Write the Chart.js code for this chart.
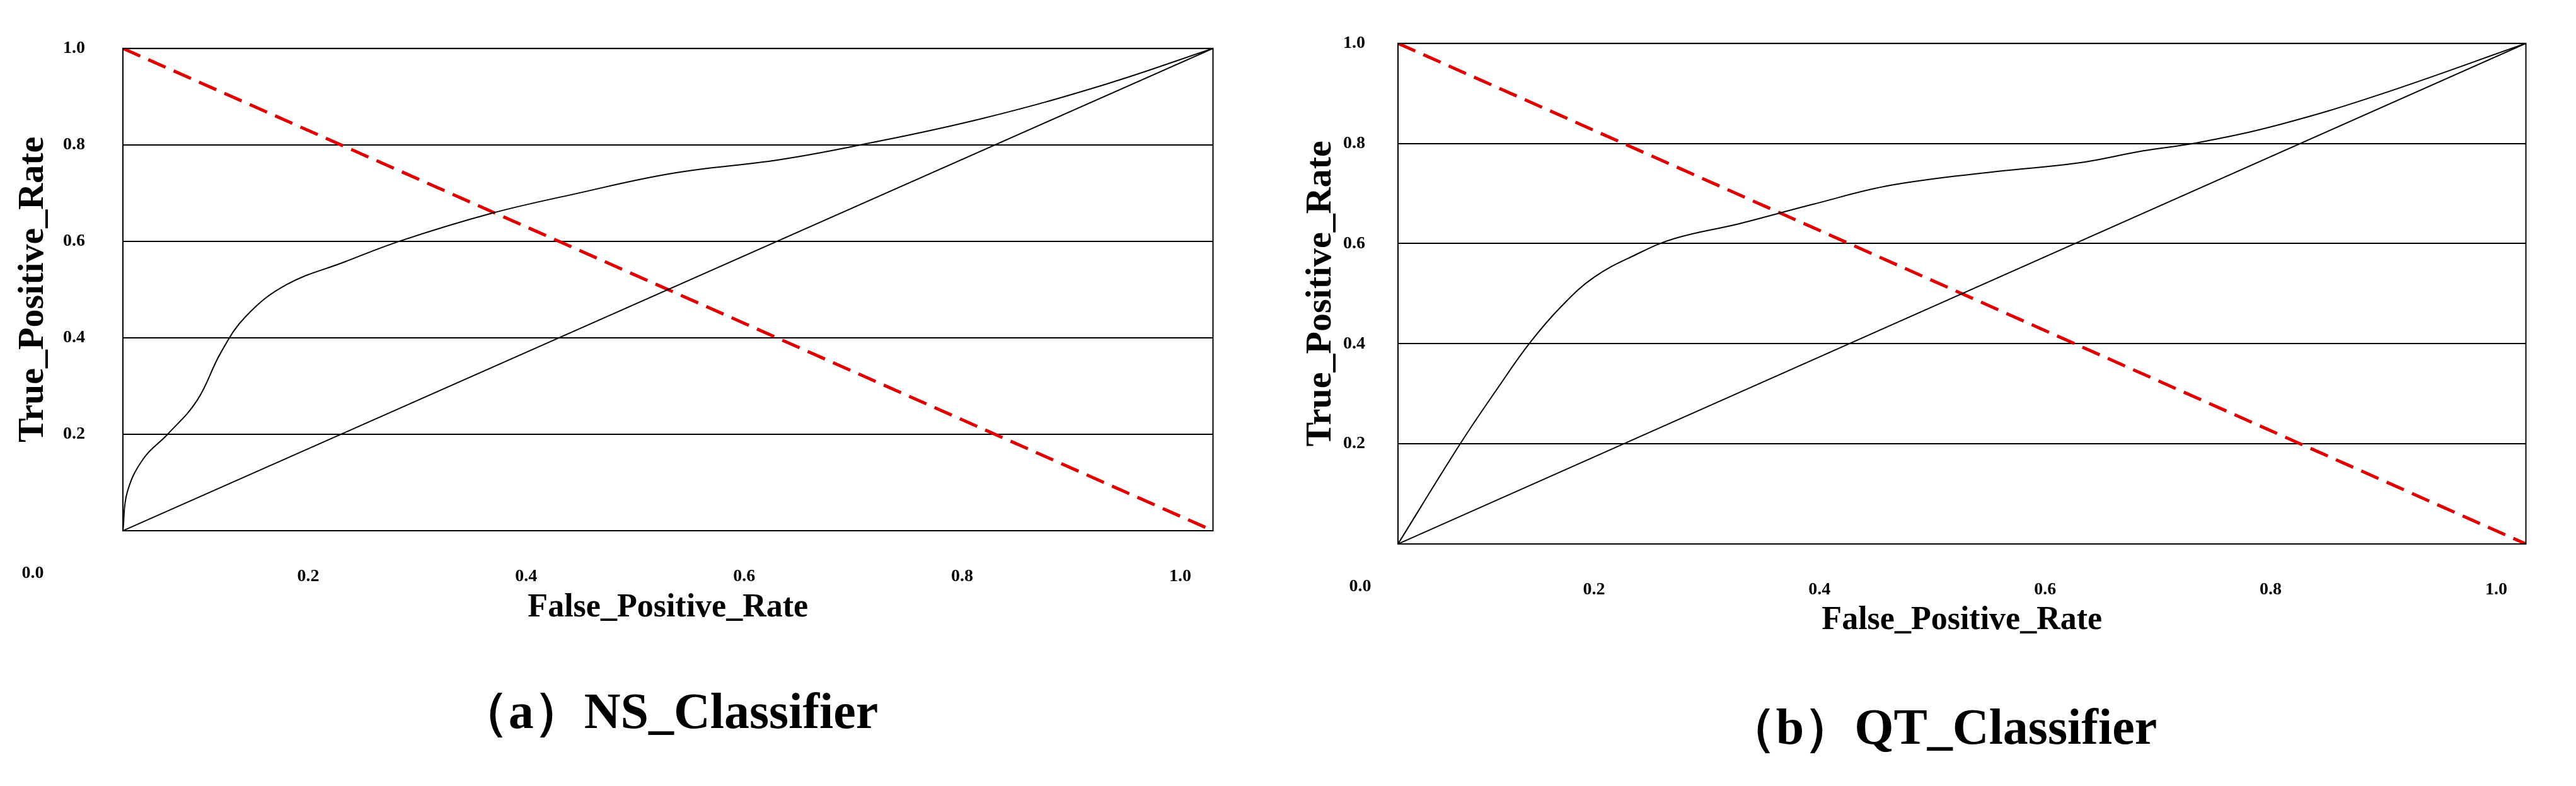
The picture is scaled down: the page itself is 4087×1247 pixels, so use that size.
<!DOCTYPE html>
<html>
<head>
<meta charset="utf-8">
<script src="https://cdn.jsdelivr.net/npm/chart.js@4.4.1/dist/chart.umd.min.js"></script>
<style>
  body { margin: 0; background: #fff; width: 4087px; height: 1247px; position: relative; overflow: hidden; }
  .box { position: absolute; }
  .cap { position: absolute; font-family: "Liberation Serif", serif; font-weight: bold; font-size: 80px; color: #000; white-space: nowrap; transform: translateX(-50%); }
</style>
</head>
<body>
<div class="box" style="left:0;top:0;width:1990px;height:1000px"><canvas id="ns-chart"></canvas></div>
<div class="box" style="left:2043px;top:0;width:2030px;height:1020px"><canvas id="qt-chart"></canvas></div>
<div class="cap" style="left:1060px;top:1075px">（a）NS_Classifier</div>
<div class="cap" style="left:3080px;top:1100px">（b）QT_Classifier</div>
<script>
// ROC curves
const nsFpr = [0, 0.004, 0.019, 0.041, 0.068, 0.09, 0.113, 0.15, 0.203, 0.256, 0.338, 0.414, 0.504, 0.602, 0.677, 0.789, 0.902, 1];
const nsTpr = [0, 0.08, 0.15, 0.2, 0.27, 0.37, 0.445, 0.51, 0.557, 0.602, 0.658, 0.698, 0.741, 0.769, 0.8, 0.855, 0.926, 1];
const qtFpr = [0, 0.056, 0.088, 0.117, 0.145, 0.174, 0.21, 0.245, 0.303, 0.367, 0.438, 0.531, 0.603, 0.66, 0.71, 0.782, 0.868, 1];
const qtTpr = [0, 0.203, 0.31, 0.402, 0.475, 0.533, 0.577, 0.61, 0.64, 0.678, 0.717, 0.744, 0.761, 0.785, 0.802, 0.838, 0.896, 1];
const diagX = [0, 1];
const diagY = [0, 1];
const chanceY = [1, 0];

const pts = (xs, ys) => xs.map((x, i) => ({ x: x, y: ys[i] }));

function makeChart(id, fpr, tpr, opt) {
  const zeroLabel = {
    id: "zeroLabel",
    afterDraw(chart) {
      const ctx = chart.ctx;
      ctx.save();
      ctx.font = "bold 28px 'Liberation Serif'";
      ctx.fillStyle = "#000";
      ctx.textAlign = "center";
      ctx.textBaseline = "top";
      ctx.fillText("0.0", opt.zeroX, chart.chartArea.bottom + 54);
      ctx.restore();
    },
  };

  const config = {
    type: "scatter",
    data: {
      datasets: [
        {
          data: pts(fpr, tpr),
          showLine: true,
          borderColor: "#000",
          borderWidth: 2,
          pointRadius: 0,
          tension: 0.4,
        },
        {
          data: pts(diagX, diagY),
          showLine: true,
          borderColor: "#000",
          borderWidth: 2,
          pointRadius: 0,
        },
        {
          data: pts(diagX, chanceY),
          showLine: true,
          borderColor: "#e00000",
          borderWidth: 5,
          borderDash: [30, 14],
          pointRadius: 0,
        },
      ],
    },
    options: {
      responsive: true,
      maintainAspectRatio: false,
      animation: false,
      layout: { padding: { top: opt.top, right: opt.right, left: 0, bottom: 0 } },
      plugins: { legend: { display: false }, tooltip: { enabled: false } },
      scales: {
        x: {
          type: "linear",
          min: 0,
          max: 1,
          afterFit: (s) => { s.height = opt.xh; },
          grid: { display: false },
          border: { display: true, color: "#000", width: 2 },
          ticks: {
            stepSize: 0.2,
            padding: 48,
            labelOffset: opt.shift,
            color: "#000",
            font: { family: "Liberation Serif", size: 28, weight: "bold" },
            callback: (v) => (v === 0 ? "" : v.toFixed(1)),
          },
          title: {
            display: true,
            text: "False_Positive_Rate",
            color: "#000",
            padding: { top: 10 },
            font: { family: "Liberation Serif", size: 52, weight: "bold" },
          },
        },
        y: {
          min: 0,
          max: 1,
          afterFit: (s) => { s.width = opt.yw; },
          grid: { color: "#000", lineWidth: 2, drawTicks: false },
          border: { display: true, color: "#000", width: 2 },
          ticks: {
            stepSize: 0.2,
            padding: opt.tickPad,
            color: "#000",
            font: { family: "Liberation Serif", size: 28, weight: "bold" },
            callback: (v) => (v === 0 ? "" : v.toFixed(1)),
          },
          title: {
            display: true,
            text: "True_Positive_Rate",
            color: "#000",
            padding: { top: 18, bottom: 0 },
            font: { family: "Liberation Serif", size: 58, weight: "bold" },
          },
        },
      },
    },
    plugins: [
      zeroLabel,
      {
        id: "frame",
        afterDraw(chart) {
          const a = chart.chartArea, ctx = chart.ctx;
          ctx.save();
          ctx.strokeStyle = "#000";
          ctx.lineWidth = 2;
          ctx.strokeRect(a.left, a.top, a.right - a.left, a.bottom - a.top);
          ctx.restore();
        },
      },
    ],
  };
  new Chart(document.getElementById(id), config);
}

makeChart("ns-chart", nsFpr, nsTpr, { top: 18, right: 61, xh: 158, yw: 195, tickPad: 60, shift: -52, zeroX: 52 });
makeChart("qt-chart", qtFpr, qtTpr, { top: 0, right: 31, xh: 157, yw: 175, tickPad: 52, shift: -47, zeroX: 115 });
</script>
</body>
</html>
